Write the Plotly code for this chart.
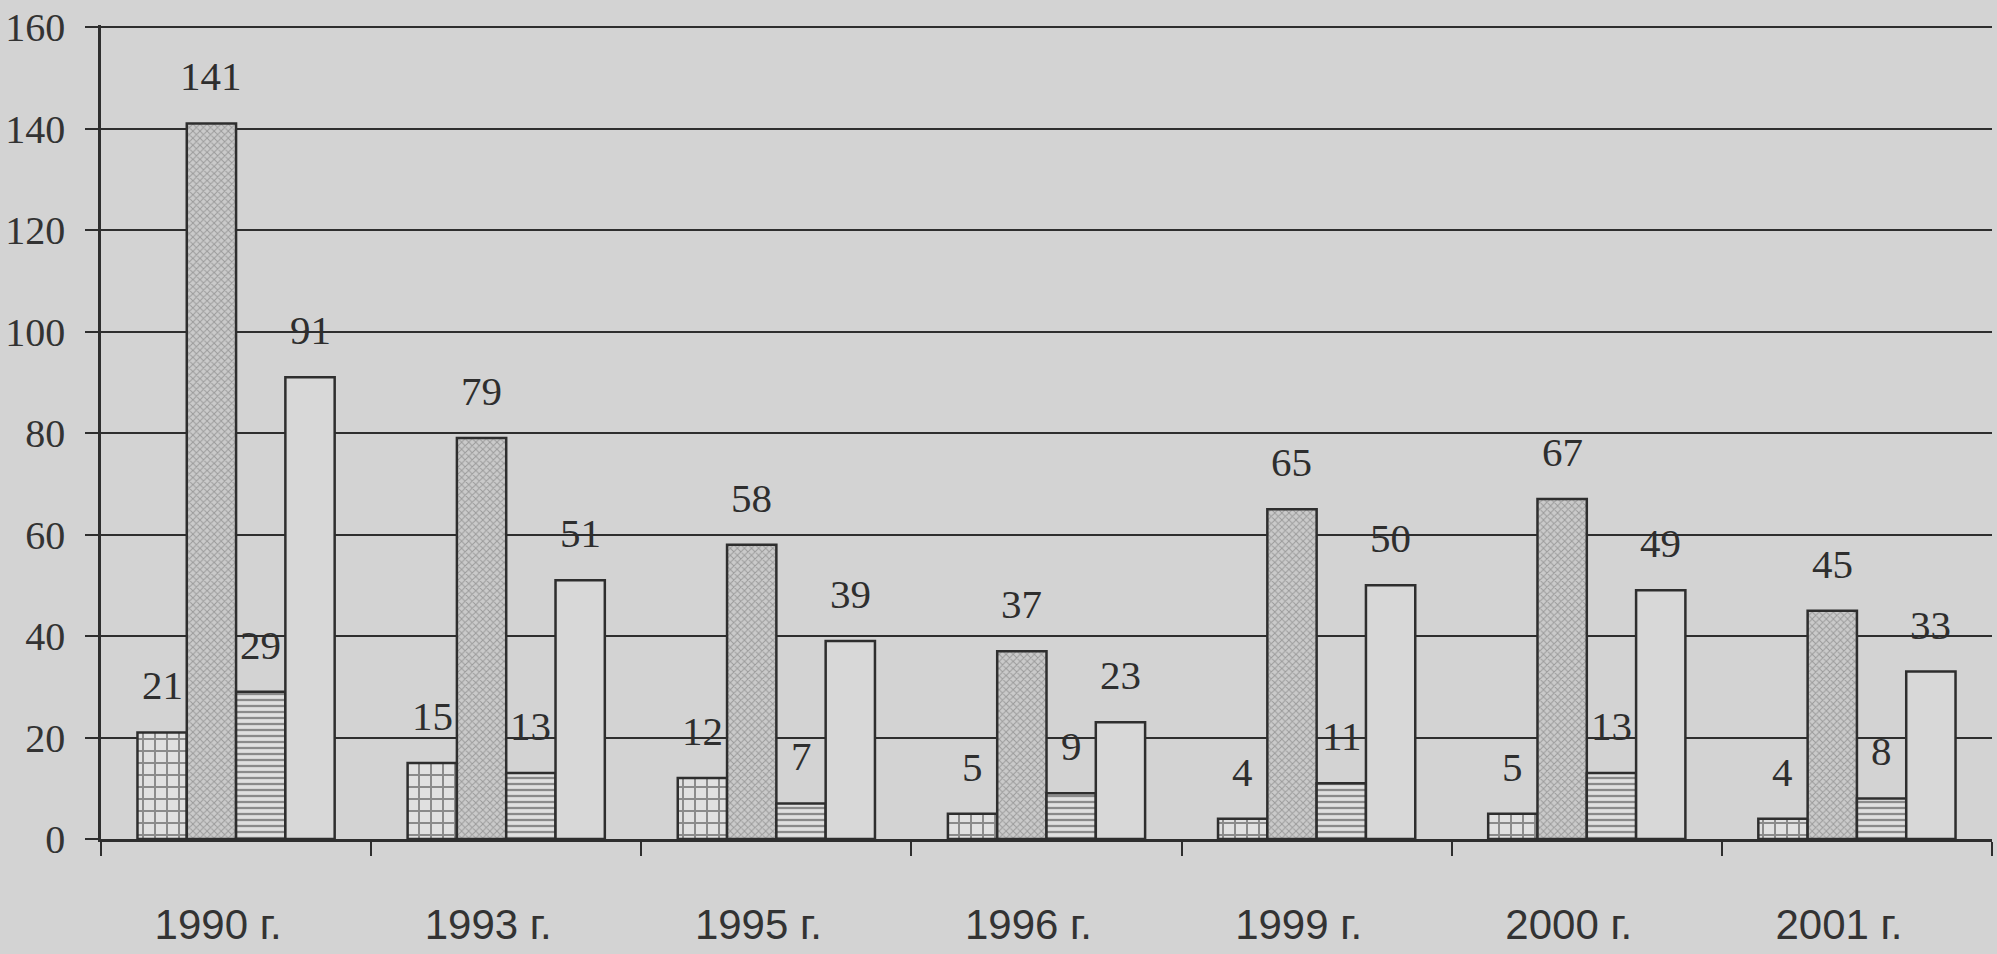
import plotly.graph_objects as go

years = ["1990 г.", "1993 г.", "1995 г.", "1996 г.", "1999 г.", "2000 г.", "2001 г."]
series_a = [21, 15, 12, 5, 4, 5, 4]
series_b = [141, 79, 58, 37, 65, 67, 45]
series_c = [29, 13, 7, 9, 11, 13, 8]
series_d = [91, 51, 39, 23, 50, 49, 33]

paper = '#d3d3d3'
ink = '#2e2e2e'
bargap = 0.27

styles = [
    dict(shape='+', size=12, solidity=0.3, fgcolor='#333333', bgcolor='#e0e0e0'),
    dict(shape='x', size=5, solidity=0.35, fgcolor='#6a6a6a', bgcolor='#cacaca'),
    dict(shape='-', size=6, solidity=0.38, fgcolor='#333333', bgcolor='#e0e0e0'),
    None,
]

fig = go.Figure()
all_series = [series_a, series_b, series_c, series_d]
for i, (vals, pat) in enumerate(zip(all_series, styles)):
    marker = dict(color='#d8d8d8', line=dict(color=ink, width=2.5))
    if pat:
        marker['pattern'] = pat
    fig.add_trace(go.Bar(x=years, y=vals, name=f'ряд {i+1}', marker=marker,
                         showlegend=False, hoverinfo='y'))

# value labels above the bars, a bit lifted like in the scan
bar_w = (1 - bargap) / len(all_series)
for i, vals in enumerate(all_series):
    for j, v in enumerate(vals):
        fig.add_annotation(x=j + (i - 1.5) * bar_w, y=v, text=str(v),
                           showarrow=False, yanchor='bottom', yshift=22,
                           font=dict(family='Liberation Serif', size=41, color=ink))

fig.update_layout(
    width=1997, height=954,
    paper_bgcolor=paper, plot_bgcolor=paper,
    barmode='group', bargap=bargap, bargroupgap=0,
    margin=dict(l=101, r=5, t=25, b=115),
    xaxis=dict(showline=True, linecolor=ink, linewidth=2.5, tickson='boundaries',
               ticks='outside', ticklen=14, tickcolor=ink, tickwidth=2,
               ticklabelstandoff=47, ticklabelshift=-18, automargin=False,
               tickfont=dict(family='Liberation Sans', size=42, color='#333')),
    yaxis=dict(range=[0, 160.4], tickvals=list(range(0, 161, 20)),
               showline=True, linecolor=ink, linewidth=2.5,
               showgrid=True, gridcolor=ink, gridwidth=2, zeroline=False,
               ticks='outside', ticklen=13, tickcolor=ink, tickwidth=2,
               ticklabelstandoff=12, ticklabeloverflow='allow', automargin=False,
               tickfont=dict(family='Liberation Serif', size=40, color='#333')),
)

fig.write_html("out.html", config={'displayModeBar': False},
               post_script="document.body.style.margin='0';")
